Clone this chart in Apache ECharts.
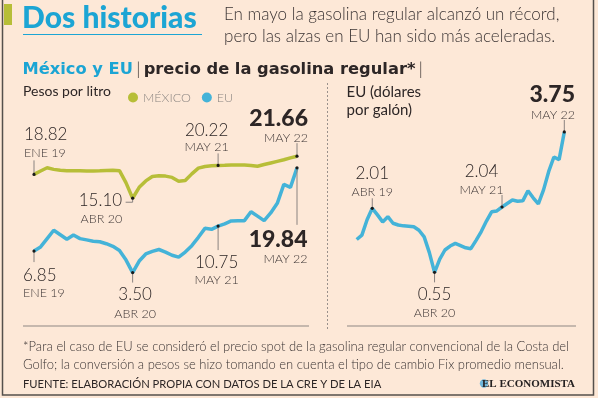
<!DOCTYPE html>
<html lang="es">
<head>
<meta charset="UTF-8">
<title>Dos historias</title>
<script src="https://cdn.jsdelivr.net/npm/echarts@6/dist/echarts.min.js"></script>
<style>
  html, body { margin: 0; padding: 0; background: #fde8d7; }
  #chart { width: 598px; height: 398px; }
</style>
</head>
<body>
<div id="chart"></div>
<script>
// --- datos (mensuales, ENE 19 - MAY 22) ---
var meses = ['ENE', 'FEB', 'MAR', 'ABR', 'MAY', 'JUN', 'JUL', 'AGO', 'SEP', 'OCT', 'NOV', 'DIC'];
var anios = ['19', '20', '21', '22'];
var categorias = [];
anios.forEach(function (a) {
    meses.forEach(function (m) { categorias.push(m + ' ' + a); });
});
categorias = categorias.slice(0, 41);

// pesos por litro
var mexico = [18.82, 19.35, 19.85, 19.60, 19.45, 19.40, 19.38, 19.37, 19.36, 19.36, 19.38, 19.42, 19.45, 19.40, 17.50, 15.10,
    16.80, 17.80, 18.50, 18.60, 18.55, 18.35, 17.75, 17.85, 18.90, 19.80, 20.05, 20.15, 20.22, 20.25, 20.30, 20.30,
    20.28, 20.22, 20.10, 20.35, 20.60, 20.85, 21.10, 21.40, 21.66];
var euPesos = [6.85, 7.50, 8.80, 10.10, 9.40, 8.70, 9.35, 8.80, 8.60, 8.40, 8.30, 8.00, 7.60, 6.95, 5.45, 3.50,
    5.30, 6.40, 6.80, 7.10, 6.70, 6.20, 5.90, 6.70, 7.70, 9.00, 10.40, 10.25, 10.75, 11.10, 11.55, 11.60,
    11.60, 13.00, 12.30, 11.60, 12.80, 14.30, 17.25, 16.80, 19.84];
// dólares por galón
var euDolares = [1.30, 1.40, 1.75, 2.01, 1.86, 1.70, 1.82, 1.67, 1.63, 1.61, 1.60, 1.59, 1.51, 1.36, 1.00, 0.55,
    0.85, 1.06, 1.15, 1.21, 1.16, 1.11, 1.09, 1.28, 1.48, 1.72, 1.93, 1.95, 2.04, 2.12, 2.20, 2.17,
    2.18, 2.41, 2.25, 2.11, 2.43, 2.85, 3.18, 3.12, 3.75];

// puntos anotados: [serie, índice del mes]
var anotados = [
    ['mexico', 0], ['mexico', 15], ['mexico', 28], ['mexico', 40],
    ['euPesos', 0], ['euPesos', 15], ['euPesos', 28], ['euPesos', 40],
    ['euDolares', 3], ['euDolares', 15], ['euDolares', 28], ['euDolares', 40]
];

var VERDE = '#b7be38';
var AZUL = '#44b3d8';
var CIAN = '#1ca5d4';
var TINTA = '#2d2626';
var FONT = 'Lato, "Noto Sans", sans-serif';
var ANCHA = '"DejaVu Sans", sans-serif';

var series_ = {
    mexico: { data: mexico, axis: 0 },
    euPesos: { data: euPesos, axis: 0 },
    euDolares: { data: euDolares, axis: 1 }
};

// posición de cada etiqueta respecto a su punto (px)
var estilo = {
    'mexico-0': { dx: -10, ny: -40, dy: -21, align: 'left', lead: [[0, 0], [0, -14]] },
    'mexico-15': { dx: -10.5, ny: 2.6, dy: 21.2, align: 'right', lead: [[0, 0], [0, 4], [-7, 4]] },
    'mexico-28': { dx: -11.5, ny: -35, dy: -18, align: 'center', lead: [[0, 0], [0, -12]] },
    'mexico-40': { dx: 11, ny: -38, dy: -18, align: 'right', bold: true, lead: [[0, 0], [0, -13]] },
    'euPesos-0': { dx: -11, ny: 24, dy: 41.7, align: 'left', lead: [[0, 0], [0, 11]] },
    'euPesos-15': { dx: 2.5, ny: 21.5, dy: 41.5, align: 'center', lead: [[0, 0], [0, 10]] },
    'euPesos-28': { dx: -1.5, ny: 36.3, dy: 54, align: 'center', lead: [[0, 0], [0, 24]] },
    'euPesos-40': { dx: 10.5, ny: 71.4, dy: 90.7, align: 'right', bold: true, lead: [[0, 0], [0, 57]] },
    'euDolares-3': { dx: 0, ny: -35, dy: -16.6, align: 'center', lead: [[0, 0], [0, -10]] },
    'euDolares-15': { dx: 0, ny: 22.6, dy: 40.6, align: 'center', lead: [[0, 0], [0, 10]] },
    'euDolares-28': { dx: -20.5, ny: -35.2, dy: -17.4, align: 'center', lead: [[0, 0], [0, -12]] },
    'euDolares-40': { dx: 10.7, ny: -37, dy: -17, align: 'right', bold: true, lead: [[0, 0], [0, -12]] }
};

var myChart = echarts.init(document.getElementById('chart'), null, { renderer: 'canvas' });

var ejeX = function (g) {
    return { type: 'category', gridIndex: g, data: categorias, boundaryGap: false, show: false };
};

var fijos = [
    { type: 'rect', shape: { x: 2.5, y: -5, width: 591, height: 400 }, style: { fill: null, stroke: '#55504c', lineWidth: 1.5 } },
    { type: 'rect', shape: { x: 4, y: 4, width: 8, height: 21 }, style: { fill: VERDE } },
    { type: 'text', x: 22, y: 18.5, style: { text: 'Dos historias', font: '900 30px ' + FONT, fill: CIAN, verticalAlign: 'middle' } },
    { type: 'line', shape: { x1: 23, y1: 34.5, x2: 202, y2: 34.5 }, style: { stroke: CIAN, lineWidth: 1 } },
    { type: 'text', x: 224, y: 15, style: { text: 'En mayo la gasolina regular alcanzó un récord,', font: '300 17px ' + FONT, fill: '#3b3434', verticalAlign: 'middle' } },
    { type: 'text', x: 224, y: 37, style: { text: 'pero las alzas en EU han sido más aceleradas.', font: '300 17px ' + FONT, fill: '#3b3434', verticalAlign: 'middle' } },
    {
        type: 'text', x: 22.5, y: 69.5,
        style: {
            text: '{c|México y EU} {s||} {b|precio de la gasolina regular*} {s||}',
            verticalAlign: 'middle',
            rich: {
                c: { font: 'bold 16.3px ' + ANCHA, fill: CIAN },
                b: { font: 'bold 16.3px ' + ANCHA, fill: TINTA },
                s: { font: '300 17px ' + FONT, fill: TINTA }
            }
        }
    },
    { type: 'text', x: 23, y: 91, style: { text: 'Pesos por litro', font: '400 14px ' + FONT, fill: TINTA, verticalAlign: 'middle' } },
    { type: 'text', x: 346.5, y: 92, style: { text: 'EU (dólares', font: '400 15px ' + FONT, fill: TINTA, verticalAlign: 'middle' } },
    { type: 'text', x: 346.5, y: 110.5, style: { text: 'por galón)', font: '400 15px ' + FONT, fill: TINTA, verticalAlign: 'middle' } },
    { type: 'line', shape: { x1: 327.5, y1: 83, x2: 327.5, y2: 330 }, style: { stroke: '#9a918c', lineWidth: 1, lineDash: [2, 2] } },
    { type: 'line', shape: { x1: 23, y1: 326, x2: 309, y2: 326 }, style: { stroke: '#8e8783', lineWidth: 1 } },
    { type: 'line', shape: { x1: 347, y1: 326, x2: 576, y2: 326 }, style: { stroke: '#8e8783', lineWidth: 1 } },
    { type: 'text', x: 23, y: 347, style: { text: '*Para el caso de EU se consideró el precio spot de la gasolina regular convencional de la Costa del', font: '300 13px ' + FONT, fill: '#3b3434', verticalAlign: 'middle' } },
    { type: 'text', x: 23, y: 364.5, style: { text: 'Golfo; la conversión a pesos se hizo tomando en cuenta el tipo de cambio Fix promedio mensual.', font: '300 13px ' + FONT, fill: '#3b3434', verticalAlign: 'middle' } },
    { type: 'text', x: 23, y: 384, style: { text: 'FUENTE: ELABORACIÓN PROPIA CON DATOS DE LA CRE Y DE LA EIA', font: '400 11.2px ' + FONT, fill: TINTA, verticalAlign: 'middle' } },
    { type: 'circle', shape: { cx: 484, cy: 383.5, r: 4.2 }, style: { fill: '#6fb6da' } },
    { type: 'text', x: 575, y: 384, style: { text: 'EL ECONOMISTA', font: 'bold 11px "Liberation Serif", serif', fill: '#262222', align: 'right', verticalAlign: 'middle' } }
];

option = {
    backgroundColor: '#fde8d7',
    animation: false,
    grid: [
        { left: 34, top: 154, width: 263, height: 141 },
        { left: 356.7, top: 121, width: 207.6, height: 175.5 }
    ],
    xAxis: [ejeX(0), ejeX(1)],
    yAxis: [
        { type: 'value', gridIndex: 0, min: 0, max: 22, show: false },
        { type: 'value', gridIndex: 1, min: 0, max: 4, show: false }
    ],
    legend: {
        data: ['MÉXICO', 'EU'],
        left: 123,
        top: 86,
        icon: 'circle',
        itemWidth: 10,
        itemHeight: 10,
        itemGap: 11,
        textStyle: { fontFamily: FONT, fontSize: 12.5, fontWeight: 300, color: '#8c8682' }
    },
    series: [
        { name: 'MÉXICO', type: 'line', data: mexico, xAxisIndex: 0, yAxisIndex: 0, showSymbol: false, color: VERDE, lineStyle: { width: 3.5 } },
        { name: 'EU', type: 'line', data: euPesos, xAxisIndex: 0, yAxisIndex: 0, showSymbol: false, color: AZUL, lineStyle: { width: 3.5 } },
        { name: 'EU dólares', type: 'line', data: euDolares, xAxisIndex: 1, yAxisIndex: 1, showSymbol: false, color: AZUL, lineStyle: { width: 3.5 } }
    ],
    graphic: fijos
};
myChart.setOption(option);

// etiquetas, guías y puntos a partir de las escalas del gráfico
var marcas = [];
anotados.forEach(function (a) {
    var s = series_[a[0]];
    var i = a[1];
    var v = s.data[i];
    var p = myChart.convertToPixel({ xAxisIndex: s.axis, yAxisIndex: s.axis }, [i, v]);
    var e = estilo[a[0] + '-' + i];
    marcas.push({
        type: 'polyline', z: 10,
        shape: { points: e.lead.map(function (q) { return [p[0] + q[0], p[1] + q[1]]; }) },
        style: { stroke: '#8a8380', lineWidth: 1, fill: null }
    });
    marcas.push({ type: 'circle', z: 11, shape: { cx: p[0], cy: p[1], r: 1.6 }, style: { fill: '#1a1a1a' } });
    marcas.push({
        type: 'text', z: 11, x: p[0] + e.dx, y: p[1] + e.ny,
        style: {
            text: v.toFixed(2),
            font: e.bold ? '900 23px ' + FONT : '300 17px ' + FONT,
            fill: TINTA, align: e.align, verticalAlign: 'middle'
        }
    });
    marcas.push({
        type: 'text', z: 11, x: p[0] + e.dx, y: p[1] + e.dy,
        style: { text: categorias[i], font: '300 12.5px ' + FONT, fill: '#3d3535', align: e.align, verticalAlign: 'middle' }
    });
});
myChart.setOption({ graphic: fijos.concat(marcas) });
</script>
</body>
</html>
